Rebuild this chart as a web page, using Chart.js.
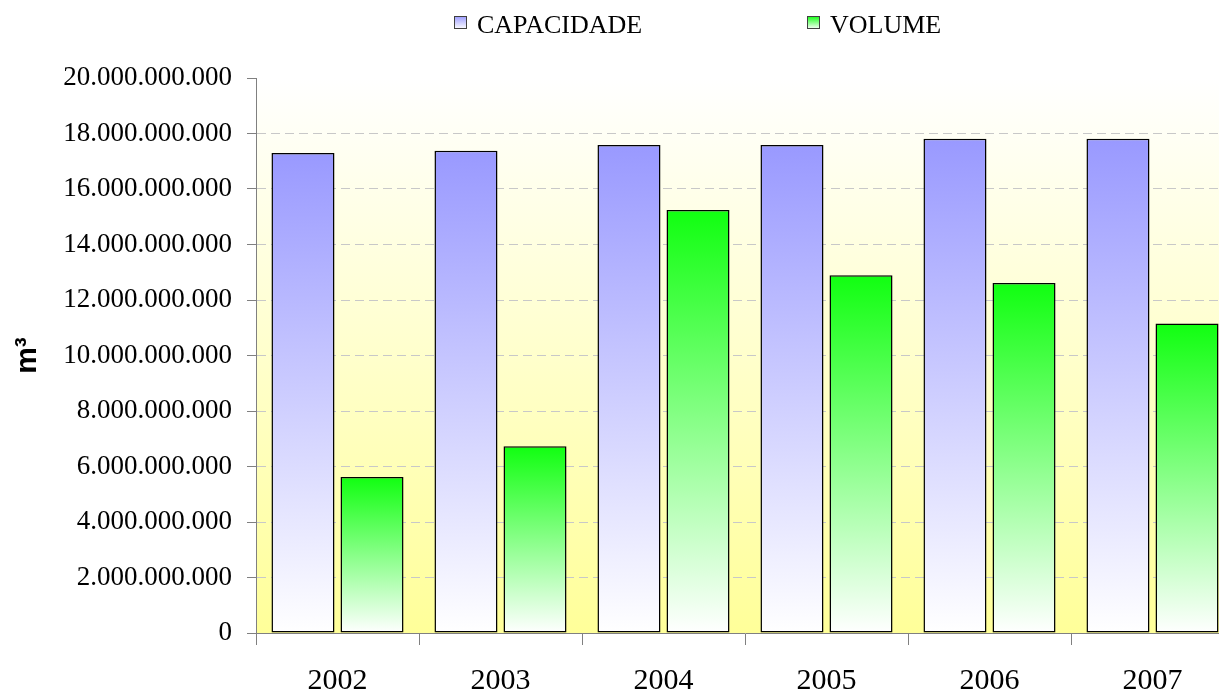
<!DOCTYPE html>
<html>
<head>
<meta charset="utf-8">
<title>Capacidade x Volume</title>
<script src="https://cdn.jsdelivr.net/npm/chart.js@4.4.1/dist/chart.umd.min.js"></script>
<style>
    html, body { margin: 0; padding: 0; overflow: hidden; background: #ffffff; }
    #wrap { position: relative; width: 1240px; height: 692px; }
</style>
</head>
<body>
<div id="wrap"><canvas id="chart"></canvas></div>
<script>

// ############################### DATA ###############################

var years = ['2002', '2003', '2004', '2005', '2006', '2007'];
var capacidade = [17.30e9, 17.38e9, 17.59e9, 17.59e9, 17.81e9, 17.81e9];
var volume = [5.62e9, 6.73e9, 15.24e9, 12.89e9, 12.61e9, 11.15e9];
var seriesNames = ['CAPACIDADE', 'VOLUME'];
var yTitle = 'm³';

// ############################### STYLE ###############################

var serif = "'Liberation Serif', 'Times New Roman', serif";
var sans = "'Liberation Sans', Arial, sans-serif";
var topColors = ['#9999ff', '#11ff11'];

// dots as thousand separators, like the original
function formatNumber(v) {
    return String(Math.round(v)).replace(/\B(?=(\d{3})+(?!\d))/g, '.');
}

// each bar fades from its colour at the top to white at the bottom
function barGradient(index) {
    return function (ctx) {
        var chart = ctx.chart;
        if (!chart.chartArea || ctx.type != 'data')
            return topColors[index];
        var y = chart.scales.y;
        var top = y.getPixelForValue(ctx.raw);
        var bottom = y.getPixelForValue(0);
        var g = chart.ctx.createLinearGradient(0, top, 0, bottom);
        g.addColorStop(0, topColors[index]);
        g.addColorStop(1, '#ffffff');
        return g;
    };
}

// yellow to white fill behind the plot
var plotBackground = {
    id: 'plotBackground',
    beforeDraw: function (chart) {
        var c = chart.ctx;
        var a = chart.chartArea;
        c.save();
        c.fillStyle = '#ffffff';
        c.fillRect(0, 0, chart.width, chart.height);
        var g = c.createLinearGradient(0, a.top, 0, a.bottom);
        g.addColorStop(0, '#ffffff');
        g.addColorStop(1, '#ffff99');
        c.fillStyle = g;
        c.fillRect(a.left, a.top, a.right - a.left, a.bottom - a.top);
        c.restore();
    }
};

// legend drawn by hand so the two items can sit far apart
var wideLegend = {
    id: 'wideLegend',
    afterDraw: function (chart) {
        var c = chart.ctx;
        var boxX = [454, 807];
        var boxY = 16;
        var size = 13;
        c.save();
        for (var i = 0; i < seriesNames.length; i++) {
            var g = c.createLinearGradient(0, boxY, 0, boxY + size);
            g.addColorStop(0, topColors[i]);
            g.addColorStop(1, '#ffffff');
            c.fillStyle = g;
            c.fillRect(boxX[i], boxY, size, size);
            c.strokeStyle = '#404040';
            c.lineWidth = 1;
            c.strokeRect(boxX[i] + 0.5, boxY + 0.5, size - 1, size - 1);
            c.fillStyle = '#000000';
            c.font = '26px ' + serif;
            c.textBaseline = 'alphabetic';
            c.textAlign = 'left';
            c.fillText(seriesNames[i], boxX[i] + 23, 33);
        }
        c.restore();
    }
};

// ############################### MAIN ###############################

var chart = new Chart(document.getElementById('chart'), {
    type: 'bar',
    data: {
        labels: years,
        datasets: [
            {
                label: seriesNames[0],
                data: capacidade,
                backgroundColor: barGradient(0),
                borderColor: '#000000',
                borderWidth: 1.5,
                borderSkipped: false
            },
            {
                label: seriesNames[1],
                data: volume,
                backgroundColor: barGradient(1),
                borderColor: '#000000',
                borderWidth: 1.5,
                borderSkipped: false
            }
        ]
    },
    options: {
        responsive: true,
        maintainAspectRatio: false,
        animation: false,
        events: [],
        categoryPercentage: 0.847,
        barPercentage: 0.913,
        layout: { padding: { top: 78, left: 0, right: 6, bottom: 0 } },
        plugins: {
            legend: { display: false },
            tooltip: { enabled: false }
        },
        scales: {
            x: {
                offset: true,
                grid: {
                    drawOnChartArea: false,
                    tickLength: 12,
                    tickColor: '#808080',
                    offset: true
                },
                border: { color: '#808080', width: 1 },
                ticks: {
                    color: '#000000',
                    padding: 18,
                    font: { family: serif, size: 30 },
                    maxRotation: 0
                },
                afterFit: function (scale) { scale.height = 59; }
            },
            y: {
                min: 0,
                max: 20e9,
                ticks: {
                    stepSize: 2e9,
                    color: '#000000',
                    padding: 15,
                    font: { family: serif, size: 27 },
                    callback: function (v) { return formatNumber(v); }
                },
                grid: {
                    tickLength: 9,
                    tickColor: '#808080',
                    color: function (ctx) {
                        if (ctx.tick && (ctx.tick.value == 0 || ctx.tick.value == 20e9))
                            return 'rgba(0,0,0,0)';
                        return '#c8c8c8';
                    }
                },
                border: { color: '#808080', width: 1, dash: [9, 5] },
                title: {
                    display: true,
                    text: yTitle,
                    color: '#000000',
                    font: { family: sans, size: 30, weight: 'bold' },
                    padding: { top: 10, bottom: 0 }
                },
                afterFit: function (scale) { scale.width = 256; }
            }
        }
    },
    plugins: [plotBackground, wideLegend]
});
</script>
</body>
</html>
